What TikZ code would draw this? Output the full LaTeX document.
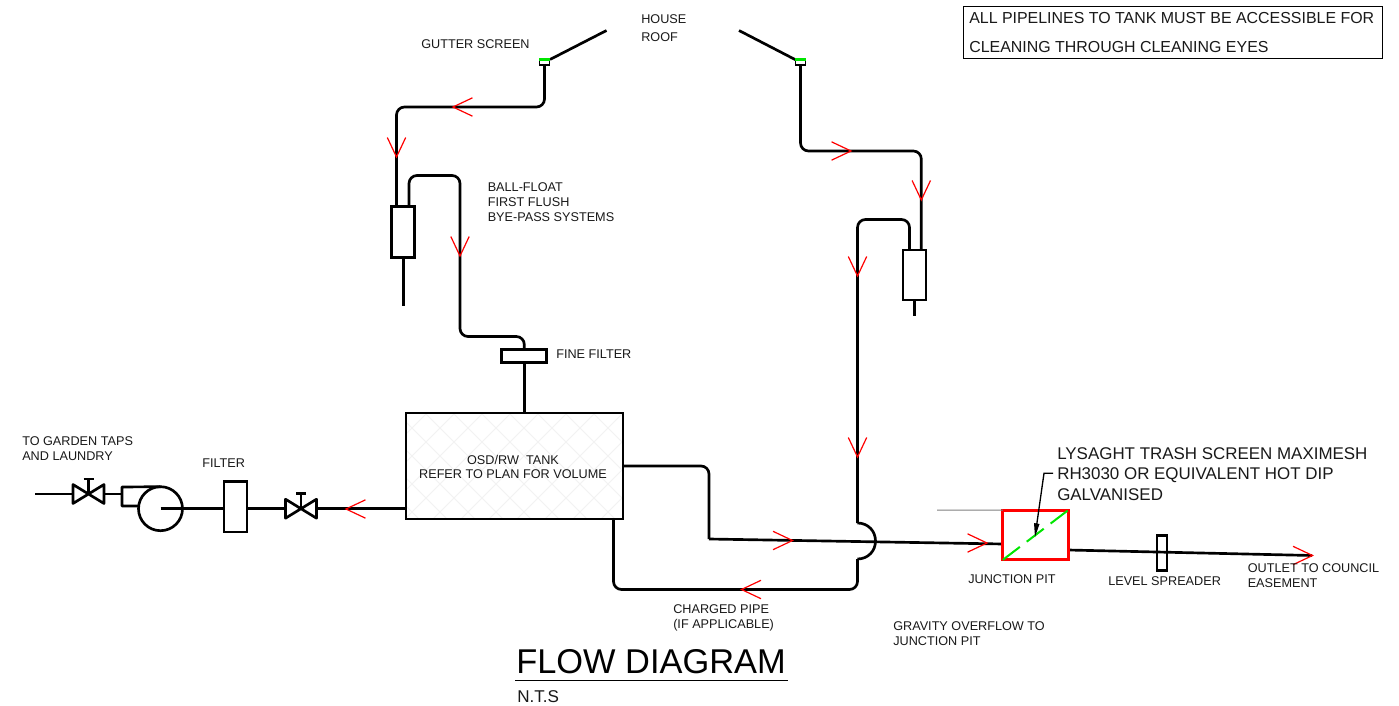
\documentclass[tikz,border=0pt]{standalone}
\usepackage{fontspec}
\setmainfont{Liberation Sans}
\definecolor{arrowred}{RGB}{255,0,0}
\definecolor{gutgreen}{RGB}{0,230,0}
\definecolor{ink}{RGB}{25,25,25}
\tikzset{
  x=0.75pt,y=-0.75pt,
  pipe/.style={line width=2pt,draw=black,line join=round},
  roundpipe/.style={pipe,rounded corners=6pt},
  boxnode/.style={draw=black,line width=2pt,fill=white,inner sep=0pt,outer sep=0pt},
  label9/.style={anchor=west,align=left,inner sep=0pt,text=ink,font=\fontsize{9.5}{11.2}\selectfont},
  pics/flowtip/.style={code={\draw[arrowred,line width=0.9pt] (-19.5,-9.2) -- (0,0) -- (-19.5,9.2);}},
  pics/valve/.style={code={
    \draw[pipe,miter limit=3] (-15.5,-9.5) -- (15.5,9.5) -- (15.5,-9.5) -- (-15.5,9.5) -- cycle;
    \draw[pipe] (0,0) -- (0,-15);
    \draw[pipe] (-5,-15) -- (5,-15);
    \coordinate (-w) at (-15.5,0);
    \coordinate (-e) at (15.5,0);
  }},
  pics/gutter/.style={code={
    \draw[line width=1.4pt,fill=white] (-5,0) rectangle (5,5);
    \draw[gutgreen,line width=2pt] (-5.5,-0.5) -- (5.5,-0.5);
    \coordinate (-s) at (0,5);
  }}
}
\begin{document}
\begin{tikzpicture}
\useasboundingbox (0,0) rectangle (1399,706);
\fill[white] (0,0) rectangle (1399,706);

% top note
\node[draw=black,line width=0.6pt,anchor=north west,minimum width=314.25pt,minimum height=39pt,inner sep=0pt,outer sep=0pt] (note) at (963.5,6) {};
\node[anchor=base west,inner sep=0pt,text=ink,font=\fontsize{11.95}{14}\selectfont] (note1) at (969,24) {ALL PIPELINES TO TANK MUST BE ACCESSIBLE FOR};
\node[anchor=base west,inner sep=0pt,text=ink,font=\fontsize{11.95}{14}\selectfont] (note2) at (969,53) {CLEANING THROUGH CLEANING EYES};

% roof and gutters
\coordinate (roofLa) at (606.5,30.5);
\coordinate (roofLb) at (550,59.5);
\coordinate (roofRa) at (739,30.5);
\coordinate (roofRb) at (796,60);
\draw[pipe] (roofLa) -- (roofLb);
\draw[pipe] (roofRa) -- (roofRb);
\pic (gl) at (544.5,60) {gutter};
\pic (gr) at (800.5,60) {gutter};

% components
\node[boxnode,minimum width=17.25pt,minimum height=38pt] (ffL) at (403.3,232) {};
\node[boxnode,minimum width=17.25pt,minimum height=37.5pt] (ffR) at (914.5,275) {};
\node[boxnode,minimum width=33.75pt,minimum height=10pt] (fine) at (524.3,356) {};
\node[draw=black,line width=2pt,minimum width=162.75pt,minimum height=79.5pt,inner sep=0pt,outer sep=0pt] (tank) at (514.5,466) {};
\begin{scope}
  \clip (406,413) rectangle (623,519);
  \foreach \k in {-14,...,40} {
    \draw[black!5,line width=0.6pt] (300+28*\k,400) -- (300+28*\k+140,540);
    \draw[black!5,line width=0.6pt] (300+28*\k,400) -- (300+28*\k-140,540);
  }
\end{scope}
\node[draw=black,line width=2pt,minimum width=162.75pt,minimum height=79.5pt,inner sep=0pt,outer sep=0pt] at (514.5,466) {};
\node[align=center,inner sep=0pt,text=ink,font=\fontsize{9.5}{11.2}\selectfont] (tanklabel) at (513,467) {OSD/RW\ \ TANK\\REFER TO PLAN FOR VOLUME};

\node[boxnode,minimum width=17.25pt,minimum height=37.9pt] (filter) at (235.5,506.8) {};
\node[draw=black,line width=2pt,circle,minimum size=33pt,inner sep=0pt,outer sep=0pt] (pump) at (160.5,508.7) {};
\pic (v1) at (88.5,494) {valve};
\pic (v2) at (301,508.7) {valve};

% left roof pipe
\coordinate (lc1) at (544.5,107);
\coordinate (lc2) at (396.5,107);
\draw[roundpipe] (gl-s) -- (lc1) -- (lc2) -- (396.5,206.5);
\coordinate (ffLe) at (403.3,306);
\draw[pipe] (ffL.south) -- (ffLe);
\draw[roundpipe] (409,206.5) -- (409,175.5) -- (460,175.5) -- (460,336.5) -- (524.3,336.5) -- (fine.north);
\draw[pipe] (fine.south) -- (tank.north -| fine.south);

% right roof pipe
\draw[roundpipe] (gr-s) -- (800.5,151) -- (921.3,151) -- (921.3,250);
\coordinate (ffRe) at (914.5,316);
\draw[pipe] (ffR.south) -- (ffRe);

% charged pipe
\coordinate (bTop) at (857.5,523);
\coordinate (bBot) at (857.5,559);
\draw[roundpipe] (bTop) -- (857.5,219.5) -- (909.5,219.5) -- (909.5,250);
\draw[pipe] (bTop) .. controls (868,523) and (875.5,531) .. (875.5,541) .. controls (875.5,551) and (868,559) .. (bBot);
\draw[roundpipe] (bBot) -- (857.5,589.5) -- (613.5,589.5) -- (613.5,519);

% overflow pipe
\coordinate (ovA) at (709,466);
\coordinate (ovB) at (709,539);
\coordinate (pitIn) at (1003,544);
\coordinate (pitOut) at (1068,550);
\draw[pipe,rounded corners=6pt] (623,466) -- (ovA) -- (ovB);
\draw[pipe] (ovB) -- (pitIn);
\coordinate (outEnd) at (1312,555.5);
\draw[pipe] (pitOut) -- (outEnd);
\node[boxnode,fill=none,minimum width=7.5pt,minimum height=26pt] (spread) at (1162,553) {};

% junction pit
\node[draw=arrowred,line width=2.2pt,minimum width=49pt,minimum height=37.25pt,inner sep=0pt,outer sep=0pt] (pit) at (1035.5,535) {};
\draw[gray,line width=0.8pt] (937,510.2) -- (pit.north west);
\draw[gutgreen,line width=1.5pt,dash pattern=on 16pt off 6.5pt] (pit.south west) -- (pit.north east);

% tank outlet line
\draw[pipe] (tank.west |- v2-e) -- (v2-e);
\draw[pipe] (v2-w) -- (filter.east |- v2-w);
\draw[pipe] (pump.center) -- (filter.west |- pump.center);
\draw[pipe] (pump.north) -- (122,487) -- (122,506) -- (139,506);
\draw[pipe] (122,494) -- (v1-e);
\coordinate (tapEnd) at (35,494);
\draw[pipe] (tapEnd) -- (v1-w);

% leader
\coordinate (leadTip) at (1035,537);
\coordinate (leadBend) at (1044,473.3);
\coordinate (leadEnd) at (1053,473.3);
\draw[black,line width=1pt] (leadEnd) -- (leadBend) -- (1036.5,526);
\fill[black] (leadTip) -- (1034,523) -- (1039.5,524) -- cycle;

% flow arrows
\pic[rotate=180] at (453,107) {flowtip};
\pic[rotate=-90] at (396.5,157) {flowtip};
\pic[rotate=-90] at (460,256) {flowtip};
\pic at (851,151) {flowtip};
\pic[rotate=-90] at (921.3,200) {flowtip};
\pic[rotate=-90] at (857.5,276) {flowtip};
\pic[rotate=-90] at (857.5,457) {flowtip};
\pic at (792.5,540.5) {flowtip};
\pic[rotate=180] at (741.5,589.5) {flowtip};
\pic at (987,543) {flowtip};
\pic at (1312.5,555.5) {flowtip};
\pic[rotate=180] at (346,509) {flowtip};

% labels
\node[label9] (l1) at (421,44) {GUTTER SCREEN};
\node[anchor=west,align=left,inner sep=0pt,text=ink,font=\fontsize{9.5}{13.3}\selectfont] (l2) at (641,28) {HOUSE\\ROOF};
\node[label9] (l3) at (487.5,202) {BALL-FLOAT\\FIRST FLUSH\\BYE-PASS SYSTEMS};
\node[label9] (l4) at (556,354) {FINE FILTER};
\node[label9] (l5) at (22,449) {TO GARDEN TAPS\\AND LAUNDRY};
\node[label9] (l6) at (202,463) {FILTER};
\node[label9] (l7) at (673,618) {CHARGED PIPE\\(IF APPLICABLE)};
\node[label9] (l8) at (893,634) {GRAVITY OVERFLOW TO\\JUNCTION PIT};
\node[label9] (l9) at (968,579) {JUNCTION PIT};
\node[label9] (l10) at (1108,581) {LEVEL SPREADER};
\node[label9] (l11) at (1247.5,576) {OUTLET TO COUNCIL\\EASEMENT};
\node[anchor=west,align=left,inner sep=0pt,text=ink,font=\fontsize{12.7}{15.4}\selectfont] (l12) at (1057,474) {LYSAGHT TRASH SCREEN MAXIMESH\\RH3030 OR EQUIVALENT HOT DIP\\GALVANISED};
\node[anchor=base west,inner sep=0pt,text=black,font=\fontsize{25.8}{30}\selectfont] (title) at (516,673) {FLOW DIAGRAM};
\coordinate (ulA) at (515,680.5);
\coordinate (ulB) at (787.5,680.5);
\draw[black,line width=0.9pt] (ulA) -- (ulB);
\node[anchor=base west,inner sep=0pt,text=ink,font=\fontsize{12.8}{15}\selectfont] (nts) at (517,702) {N.T.S};
\end{tikzpicture}
\end{document}
